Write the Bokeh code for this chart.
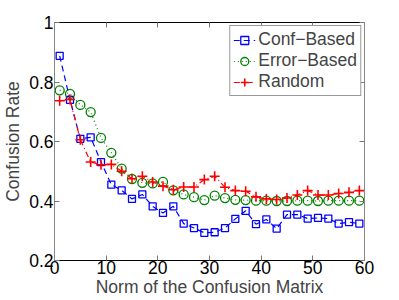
from bokeh.plotting import figure
from bokeh.models import LinearAxis, Range1d, FixedTicker, Legend, LegendItem
from bokeh.embed import file_html
from bokeh.resources import INLINE

x = [1, 3, 5, 7, 9, 11, 13, 15, 17, 19, 21, 23, 25, 27, 29, 31, 33, 35, 37, 39,
     41, 43, 45, 47, 49, 51, 53, 55, 57, 59]
conf_based = [0.888, 0.740, 0.609, 0.614, 0.531, 0.455, 0.436, 0.407, 0.422, 0.382,
              0.360, 0.382, 0.324, 0.309, 0.293, 0.295, 0.309, 0.340, 0.367, 0.322,
              0.338, 0.307, 0.354, 0.354, 0.341, 0.343, 0.341, 0.324, 0.329, 0.324]
error_based = [0.772, 0.760, 0.723, 0.699, 0.612, 0.562, 0.509, 0.474, 0.461, 0.459,
               0.464, 0.436, 0.422, 0.413, 0.403, 0.418, 0.410, 0.404, 0.403, 0.401,
               0.401, 0.400, 0.400, 0.401, 0.401, 0.400, 0.401, 0.401, 0.401, 0.401]
random_sel = [0.737, 0.741, 0.606, 0.531, 0.522, 0.523, 0.500, 0.475, 0.483, 0.464,
              0.450, 0.438, 0.447, 0.447, 0.472, 0.483, 0.446, 0.435, 0.433, 0.414,
              0.407, 0.405, 0.410, 0.420, 0.435, 0.420, 0.420, 0.425, 0.429, 0.435]

x_ticks = [0, 10, 20, 30, 40, 50, 60]
y_ticks = [0.2, 0.4, 0.6, 0.8, 1.0]
y_tick_labels = {0.2: "0.2", 0.4: "0.4", 0.6: "0.6", 0.8: "0.8", 1.0: "1"}

FONT = "Liberation Sans"
FS = "17.5px"

p = figure(frame_width=310, frame_height=238, output_backend="svg", toolbar_location=None,
           x_range=Range1d(0, 60), y_range=Range1d(0.2, 1.0),
           min_border_left=52, min_border_right=28, min_border_top=22, min_border_bottom=0)
p.xgrid.visible = False
p.ygrid.visible = False
p.outline_line_color = None
p.background_fill_color = "white"
p.border_fill_color = "white"

r1 = p.line(x, conf_based, line_color="#0000ff", line_width=1.2, line_dash="6 4")
m1 = p.scatter(x, conf_based, marker="square", size=7, fill_color=None,
               line_color="#0000ff", line_width=1.3)
r2 = p.line(x, error_based, line_color="#008000", line_width=1.2, line_dash="1 3")
m2 = p.scatter(x, error_based, marker="circle", size=9, fill_color=None,
               line_color="#008000", line_width=1.3)
r3 = p.line(x, random_sel, line_color="#ff0000", line_width=1.2, line_dash="6 3 1 3")
m3 = p.scatter(x, random_sel, marker="cross", size=10, line_color="#ff0000", line_width=1.6)


def style(ax, line_color, labels=True):
    ax.major_tick_in = 5
    ax.major_tick_out = 0
    ax.minor_tick_line_color = None
    ax.axis_line_color = line_color
    ax.major_tick_line_color = "#777777"
    ax.major_label_text_font = FONT
    ax.major_label_text_font_size = FS
    ax.major_label_text_color = "black" if labels else None
    ax.axis_label_text_font = FONT
    ax.axis_label_text_font_size = FS
    ax.axis_label_text_font_style = "normal"


xa = p.xaxis[0]
xa.ticker = FixedTicker(ticks=x_ticks)
xa.axis_label = "Norm of the Confusion Matrix"
style(xa, "black")
xa.major_label_standoff = 0
xa.axis_label_standoff = 0

ya = p.yaxis[0]
ya.ticker = FixedTicker(ticks=y_ticks)
ya.major_label_overrides = y_tick_labels
ya.axis_label = "Confusion Rate"
style(ya, "#888888")
ya.major_label_standoff = 1
ya.axis_label_standoff = 3

top = LinearAxis(ticker=FixedTicker(ticks=x_ticks))
style(top, "black", labels=False)
top.major_label_text_font_size = "0px"
top.major_label_standoff = 0
p.add_layout(top, "above")

right = LinearAxis(ticker=FixedTicker(ticks=y_ticks))
style(right, "#888888", labels=False)
right.major_label_text_font_size = "0px"
right.major_label_standoff = 0
p.add_layout(right, "right")

legend = Legend(items=[
    LegendItem(label="Conf\u2212Based", renderers=[r1, m1]),
    LegendItem(label="Error\u2212Based", renderers=[r2, m2]),
    LegendItem(label="Random", renderers=[r3, m3]),
], location="top_right")
legend.label_text_font = FONT
legend.label_text_font_size = FS
legend.border_line_color = "#333333"
legend.border_line_width = 1
legend.background_fill_color = "white"
legend.background_fill_alpha = 1
legend.spacing = 0
legend.padding = 3
legend.margin = 3
legend.glyph_width = 22
legend.glyph_height = 20
legend.label_height = 20
legend.label_standoff = 3
p.add_layout(legend)

open("out.html", "w").write(file_html(p, INLINE))
